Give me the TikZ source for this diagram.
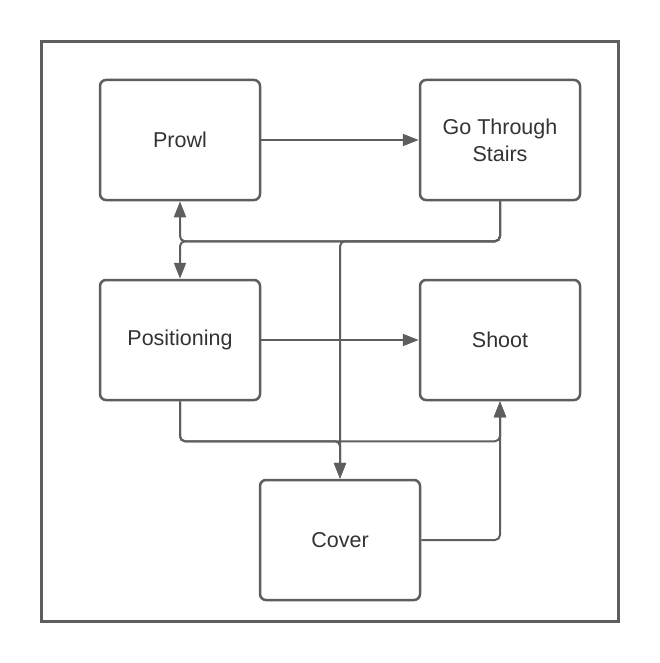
\documentclass[tikz,border=0pt]{standalone}
\usepackage{fontspec}
\setmainfont{Liberation Sans}
\usetikzlibrary{positioning, arrows.meta}
\definecolor{linegray}{HTML}{5E5E5E}
\definecolor{textgray}{HTML}{333333}

\begin{document}
\begin{tikzpicture}[
        state/.style={draw=linegray, line width=2.5pt, rounded corners=6pt,
            minimum width=160pt, minimum height=120pt, align=center,
            text=textgray, font=\fontsize{21.5}{27}\selectfont},
        link/.style={draw=linegray, line width=2pt, rounded corners=5pt,
            -{Triangle[length=16pt, width=12pt]}},
        node distance=77.5pt and 157.5pt]
    \useasboundingbox (0,0) rectangle (660pt,-663pt);
    \draw [linegray, line width=3pt] (41.5pt,-41.5pt) rectangle (618.5pt,-621pt);
    \node [state] (Prowl) at (180pt,-140pt) {Prowl};
    \node [state, right = of Prowl] (Stairs) {Go Through\\Stairs};
    \node [state, below = of Prowl] (Pos) {Positioning};
    \node [state, below = of Stairs] (Shoot) {Shoot};
    \node [state, below right = 77.5pt and -2.5pt of Pos] (Cover) {Cover};
    \draw [link] (Prowl) -- (Stairs);
    \draw [link] (Pos) -- (Shoot);
    \draw [link] (Stairs.south) -- ++(0,-40pt) -| (Prowl.south);
    \draw [link] (Stairs.south) -- ++(0,-40pt) -| (Pos.north);
    \draw [link] (Stairs.south) -- ++(0,-40pt) -| (Cover.north);
    \draw [link] (Pos.south) -- ++(0,-40pt) -| (Shoot.south);
    \draw [link] (Pos.south) -- ++(0,-40pt) -| (Cover.north);
    \draw [link] (Cover.east) -| (Shoot.south);
\end{tikzpicture}
\end{document}
